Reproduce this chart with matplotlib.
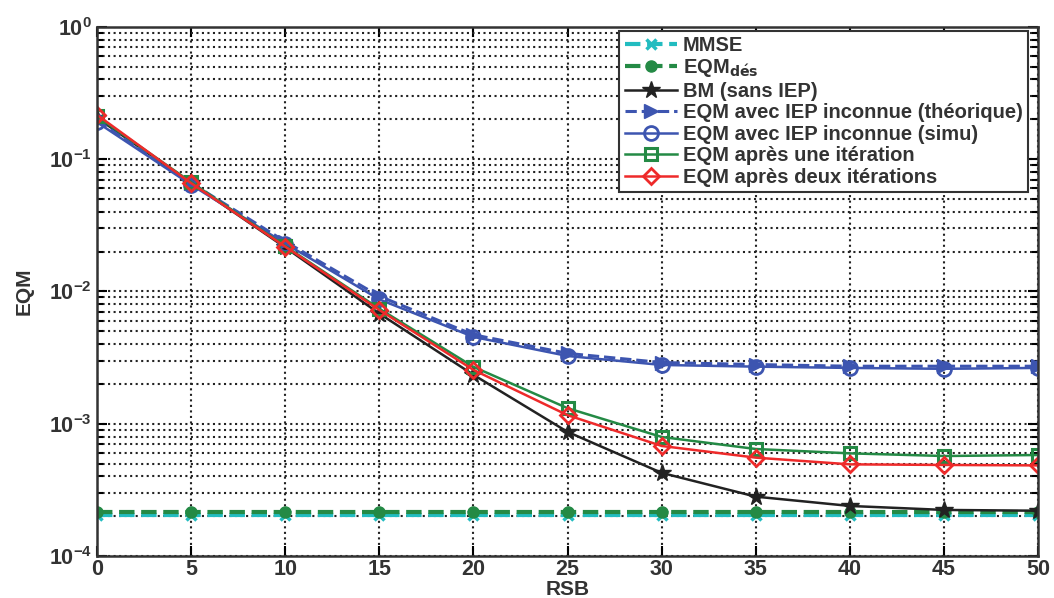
import numpy as np
import matplotlib
matplotlib.use("Agg")
import matplotlib.pyplot as plt
from matplotlib.ticker import LogLocator, NullFormatter

plt.rcParams['font.family'] = ['Liberation Sans', 'DejaVu Sans']
plt.rcParams['font.weight'] = 'bold'
plt.rcParams['mathtext.default'] = 'bf'

# data
rsb = [0, 5, 10, 15, 20, 25, 30, 35, 40, 45, 50]
mmse = [2.05e-4] * 11
eqm_des = [2.15e-4] * 11
bm_sans_iep = [0.205, 0.066, 0.0215, 0.0068, 0.00234, 0.000867, 0.000425, 0.000281, 0.000239, 0.000223, 0.00022]
iep_theo = [0.195, 0.066, 0.0238, 0.0092, 0.0047, 0.0034, 0.0029, 0.0028, 0.00272, 0.00272, 0.00272]
iep_simu = [0.19, 0.064, 0.023, 0.0087, 0.00453, 0.00325, 0.00278, 0.0027, 0.00264, 0.0026, 0.00264]
une_iter = [0.21, 0.067, 0.022, 0.0074, 0.00269, 0.00131, 0.000794, 0.000644, 0.000597, 0.00057, 0.00058]
deux_iter = [0.216, 0.0658, 0.0218, 0.00724, 0.00255, 0.00116, 0.000679, 0.000554, 0.000493, 0.000488, 0.000484]

fig = plt.figure(figsize=(10.54, 5.98), dpi=100)
ax = fig.add_axes([0.092, 0.0702, 0.893, 0.885])

ax.semilogy(rsb, mmse, '--x', color='#22bcc0', lw=3, ms=7, mew=2.5, label='MMSE')
ax.semilogy(rsb, eqm_des, '--o', color='#248a45', lw=3, ms=8, label=r'EQM$_{\mathbf{d\acute{e}s}}$')
ax.semilogy(rsb, bm_sans_iep, '-*', color='#222222', lw=1.8, ms=13, label='BM (sans IEP)')
ax.semilogy(rsb, iep_theo, '-->', color='#3d55b0', lw=2.2, ms=10, label='EQM avec IEP inconnue (théorique)')
ax.semilogy(rsb, iep_simu, '-o', color='#3d55b0', lw=1.8, ms=10, mfc='none', mew=2, label='EQM avec IEP inconnue (simu)')
ax.semilogy(rsb, une_iter, '-s', color='#248a45', lw=1.8, ms=9, mfc='none', mew=2.2, label='EQM après une itération')
ax.semilogy(rsb, deux_iter, '-D', color='#ee2a2a', lw=1.8, ms=8, mfc='none', mew=2, label='EQM après deux itérations')

ax.set_xlim(0, 50)
ax.set_ylim(1e-4, 1)
ax.set_xticks(np.arange(0, 51, 5))
ax.yaxis.set_major_locator(LogLocator(base=10, numticks=10))
ax.yaxis.set_minor_locator(LogLocator(base=10, subs=np.arange(2, 10), numticks=50))
ax.yaxis.set_minor_formatter(NullFormatter())

ax.grid(True, which='major', axis='both', linestyle=':', color='#222222', lw=1.5)
ax.grid(True, which='minor', axis='y', linestyle=':', color='#222222', lw=1.5)

ax.tick_params(which='both', direction='in', top=True, right=True, labelsize=15.5, width=1.5)
ax.tick_params(which='major', length=7)
ax.tick_params(which='minor', length=4)
ax.tick_params(axis='x', pad=2)
for lab in ax.get_xticklabels() + ax.get_yticklabels():
    lab.set_fontweight('bold')
    lab.set_color('#333333')
for sp in ax.spines.values():
    sp.set_linewidth(1.8)
    sp.set_color('#333333')

ax.set_xlabel('RSB', fontsize=15, fontweight='bold', color='#333333', labelpad=0)
ax.set_ylabel('EQM', fontsize=15, fontweight='bold', color='#333333', labelpad=11)

leg = ax.legend(loc='upper right', bbox_to_anchor=(0.989, 0.992), borderaxespad=0,
                fontsize=14.5, fancybox=False, framealpha=1, edgecolor='#333333',
                handlelength=2.6, handletextpad=0.3, borderpad=0.25, labelspacing=0.12)
leg.get_frame().set_linewidth(1.5)
for t in leg.get_texts():
    t.set_color('#333333')
    t.set_fontweight('bold')

fig.savefig('out.png', dpi=100)
